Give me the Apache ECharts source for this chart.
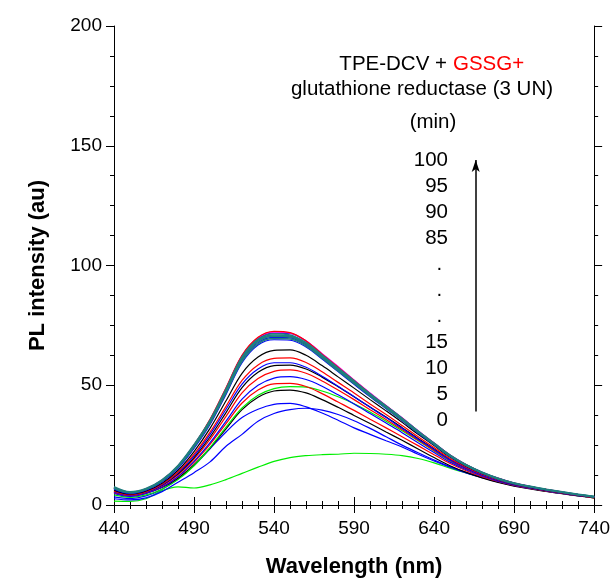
<!DOCTYPE html>
<html>
<head>
<meta charset="utf-8">
<script src="https://cdn.jsdelivr.net/npm/echarts@6/dist/echarts.min.js"></script>
<style>html,body{margin:0;padding:0;background:#fff;}#c{width:613px;height:583px;}</style>
</head>
<body>
<div id="c"></div>
<script>
const wavelengths = [440,450,460,470,480,490,500,510,520,530,540,550,560,570,580,590,600,610,620,630,640,650,660,670,680,690,700,710,720,730,740];
const xTicks = [440, 740, 50];
const yTicks = [0, 200, 50];

const greenLow = [1.6,1.5,2.6,6.0,7.6,7.1,8.4,10.6,13.2,15.8,18.2,19.8,20.6,21.0,21.2,21.6,21.5,21.2,20.6,19.4,17.6,15.4,13.4,11.7,10.1,8.7,7.4,6.2,5.1,4.1,3.2];
const blueB = [2.6,2.1,3.0,5.6,9.5,13.5,18.0,24.5,29.5,35.0,38.2,39.8,40.4,39.6,37.8,35.2,32.0,28.5,25.0,21.8,18.8,16.0,13.6,11.6,9.7,8.2,7.0,5.9,4.9,4.0,3.1];
const blueA = [3.4,2.7,3.8,6.6,11.0,16.5,23.5,30.5,36.5,40.0,42.0,42.4,41.0,38.4,35.4,32.2,29.5,26.8,24.2,21.2,18.4,15.8,13.4,11.4,9.6,8.1,6.9,5.8,4.8,3.9,3.1];
const black4 = [5.2,3.9,4.9,7.3,11.2,16.8,23.8,31.8,39.8,45.0,47.6,48.0,46.8,44.0,40.8,37.4,34.0,30.5,27.0,23.4,19.8,16.4,13.6,11.3,9.4,7.9,6.7,5.7,4.7,3.8,3.0];
const greenMid = [4.2,3.2,4.2,6.6,10.6,16.4,24.0,32.5,40.5,45.8,48.6,49.4,49.2,47.6,45.2,42.3,38.8,35.0,31.0,26.8,22.6,18.4,15.0,12.3,10.1,8.4,7.0,5.9,4.8,3.9,3.0];
const red6 = [5.0,3.8,4.9,7.5,11.8,17.8,25.3,34.0,42.6,48.0,50.6,50.8,49.5,46.5,43.0,39.5,35.8,32.2,28.5,24.8,21.0,17.3,14.3,11.8,9.8,8.2,6.9,5.8,4.8,3.9,3.0];
const blue7 = [4.8,3.6,4.8,7.5,11.9,18.2,26.0,35.0,44.2,50.0,53.0,53.6,52.4,49.6,46.0,42.2,38.2,34.2,30.2,26.0,21.9,17.9,14.7,12.1,10.0,8.3,7.0,5.9,4.8,3.9,3.1];
const red8 = [5.3,4.0,5.2,8.0,12.6,19.2,27.4,37.0,46.8,52.8,55.8,56.4,55.0,51.8,48.0,44.0,39.8,35.7,31.5,27.1,22.8,18.6,15.2,12.5,10.3,8.5,7.2,6.0,4.9,4.0,3.1];
const black9 = [5.9,4.4,5.5,8.3,13.0,19.8,28.4,38.6,49.0,55.4,58.2,58.4,56.8,53.4,49.4,45.2,40.9,36.7,32.3,27.8,23.4,19.0,15.5,12.7,10.4,8.6,7.3,6.1,5.0,4.0,3.2];
const blue10 = [5.5,4.1,5.4,8.4,13.4,20.5,29.5,40.0,50.5,56.8,59.4,59.4,57.5,53.8,49.6,45.2,40.8,36.5,32.0,27.5,23.2,18.8,15.4,12.6,10.4,8.6,7.3,6.1,5.0,4.0,3.2];
const red11 = [5.8,4.3,5.6,8.7,13.8,21.2,30.4,41.2,52.0,58.5,61.2,61.4,59.5,55.6,51.2,46.8,42.2,37.8,33.2,28.5,24.0,19.4,15.8,12.9,10.6,8.8,7.4,6.2,5.1,4.1,3.2];
const black12 = [6.2,4.6,5.9,9.1,14.5,22.3,32.0,43.5,55.0,61.8,64.6,64.8,62.5,58.2,53.5,48.8,44.0,39.3,34.5,29.5,24.8,20.0,16.2,13.2,10.8,8.9,7.5,6.3,5.2,4.2,3.3];
const blue13 = [6.6,4.8,6.2,9.6,15.3,23.6,33.6,46.2,59.4,66.8,69.0,68.8,66.0,61.0,55.7,50.4,45.2,40.2,35.2,30.0,25.1,20.2,16.4,13.3,10.9,9.0,7.6,6.4,5.3,4.3,3.4];
const blue15 = [6.8,4.9,6.3,9.8,15.6,24.0,34.4,47.2,60.5,67.8,70.0,69.8,66.8,61.6,56.3,51.0,45.8,40.7,35.6,30.3,25.4,20.4,16.5,13.4,10.9,9.0,7.6,6.4,5.3,4.3,3.4];
const blue19 = [7.0,5.0,6.5,10.0,16.1,24.8,35.2,48.4,62.2,69.6,71.8,71.6,68.4,63.0,57.5,52.0,46.6,41.4,36.3,30.9,25.8,20.8,16.8,13.6,11.1,9.1,7.6,6.4,5.3,4.3,3.4];
const magenta20 = [7.4,5.4,6.8,10.4,16.4,25.1,35.6,48.8,62.4,69.8,72.2,71.8,68.6,63.2,57.8,52.2,46.8,41.6,36.4,31.0,25.9,20.9,16.9,13.7,11.2,9.2,7.8,6.5,5.4,4.4,3.5];
const red21 = [7.2,5.2,6.6,10.2,16.3,25.0,35.8,49.0,62.5,70.0,72.5,72.0,68.5,63.0,57.5,52.0,46.5,41.3,36.2,30.8,25.8,20.8,16.8,13.6,11.1,9.1,7.7,6.5,5.3,4.3,3.4];
const teal14 = [7.1,5.2,6.6,10.1,15.9,24.2,34.2,46.8,60.0,67.3,69.5,69.3,66.4,61.3,56.0,50.7,45.5,40.5,35.4,30.2,25.3,20.4,16.5,13.4,10.9,9.0,7.6,6.4,5.3,4.3,3.4];
const teal16 = [7.0,5.1,6.5,10.0,15.9,24.4,34.6,47.6,61.0,68.3,70.5,70.2,67.2,62.0,56.6,51.2,46.0,40.9,35.8,30.5,25.5,20.5,16.6,13.5,11.0,9.0,7.6,6.4,5.3,4.3,3.4];
const teal17 = [7.3,5.3,6.7,10.3,16.2,24.8,35.0,48.0,61.4,68.8,71.0,70.6,67.5,62.3,56.9,51.5,46.2,41.1,36.0,30.6,25.6,20.6,16.7,13.6,11.1,9.1,7.7,6.5,5.4,4.4,3.5];
const teal18 = [7.6,5.5,6.9,10.5,16.5,25.2,35.4,48.4,61.8,69.2,71.5,71.0,67.8,62.6,57.2,51.8,46.4,41.3,36.2,30.8,25.8,20.8,16.8,13.7,11.2,9.2,7.8,6.6,5.5,4.5,3.5];

const seriesList = [
  ['greenLow', greenLow, '#00ee00'],
  ['blueB', blueB, '#0000ff'],
  ['blueA', blueA, '#0000ff'],
  ['black4', black4, '#000000'],
  ['greenMid', greenMid, '#00ee00'],
  ['red6', red6, '#ff0000'],
  ['blue7', blue7, '#0000ff'],
  ['red8', red8, '#ff0000'],
  ['black9', black9, '#000000'],
  ['blue10', blue10, '#0000ff'],
  ['red11', red11, '#ff0000'],
  ['black12', black12, '#000000'],
  ['blue13', blue13, '#0000ff'],
  ['blue15', blue15, '#0000ff'],
  ['blue19', blue19, '#0000ff'],
  ['magenta20', magenta20, '#ff00ff'],
  ['red21', red21, '#ff0000'],
  ['teal14', teal14, '#1f7f7f'],
  ['teal16', teal16, '#1f7f7f'],
  ['teal17', teal17, '#1f7f7f'],
  ['teal18', teal18, '#1f7f7f']
];

const timeLabels = ['100','95','90','85','. ','. ','. ','15','10','5','0'];
const arrowX = 666;
const arrowY = [39, 144];

const FONT = 'Liberation Sans, Arial, Helvetica, sans-serif';
const chart = echarts.init(document.getElementById('c'), null, {renderer: 'canvas'});

const axisCommon = {
  type: 'value',
  axisLine: {show: true, lineStyle: {color: '#000', width: 1}},
  axisTick: {show: true, inside: false, length: 8, lineStyle: {color: '#000', width: 1}},
  minorTick: {show: true, length: 4, lineStyle: {color: '#000', width: 1}},
  splitLine: {show: false},
  minorSplitLine: {show: false}
};

const series = seriesList.map(function (s, i) {
  return {
    name: s[0],
    type: 'line',
    data: wavelengths.map(function (w, k) { return [w, s[1][k]]; }),
    showSymbol: false,
    symbol: 'none',
    smooth: 0.35,
    lineStyle: {color: s[2], width: s[2] === '#1f7f7f' ? 1.6 : 1.2},
    itemStyle: {color: s[2]},
    silent: true,
    animation: false,
    z: 2 + i
  };
});

series.push({
  name: 'arrow',
  type: 'line',
  data: [],
  silent: true,
  animation: false,
  markLine: {
    silent: true,
    symbol: ['none', 'arrow'],
    symbolSize: [6, 12],
    label: {show: false},
    lineStyle: {color: '#000', width: 1.5, type: 'solid'},
    data: [[{coord: [arrowX, arrowY[0]]}, {coord: [arrowX, arrowY[1]]}]]
  }
});

const AF = '20.5px ' + FONT;
const graphics = [
  {type: 'text', x: 447, y: 64, style: {text: 'TPE-DCV +', fill: '#000', font: AF, textAlign: 'right', textVerticalAlign: 'middle'}},
  {type: 'text', x: 453, y: 64, style: {text: 'GSSG+', fill: '#ff0000', font: AF, textAlign: 'left', textVerticalAlign: 'middle'}},
  {type: 'text', x: 422, y: 89, style: {text: 'glutathione reductase (3 UN)', fill: '#000', font: AF, textAlign: 'center', textVerticalAlign: 'middle'}},
  {type: 'text', x: 433, y: 122, style: {text: '(min)', fill: '#000', font: AF, textAlign: 'center', textVerticalAlign: 'middle'}}
];
timeLabels.forEach(function (t, i) {
  graphics.push({type: 'text', x: 448, y: 160 + i * 26, style: {text: t, fill: '#000', font: AF, textAlign: 'right', textVerticalAlign: 'middle'}});
});

chart.setOption({
  backgroundColor: '#fff',
  animation: false,
  grid: {left: 114, right: 18, top: 26, bottom: 76, containLabel: false},
  xAxis: [
    Object.assign({}, axisCommon, {
      position: 'bottom', min: xTicks[0], max: xTicks[1], interval: xTicks[2],
      minorTick: {show: true, splitNumber: 5, length: 4, lineStyle: {color: '#000'}},
      axisLabel: {show: true, color: '#000', fontSize: 19, fontFamily: FONT, margin: 14},
      name: 'Wavelength (nm)', nameLocation: 'middle', nameGap: 51,
      nameTextStyle: {color: '#000', fontSize: 22, fontWeight: 'bold', fontFamily: FONT}
    }),
    Object.assign({}, axisCommon, {
      position: 'top', min: xTicks[0], max: xTicks[1], interval: xTicks[2],
      minorTick: {show: true, splitNumber: 5, length: 4, lineStyle: {color: '#000'}},
      axisLabel: {show: false}
    })
  ],
  yAxis: [
    Object.assign({}, axisCommon, {
      position: 'left', min: yTicks[0], max: yTicks[1], interval: yTicks[2],
      minorTick: {show: true, splitNumber: 4, length: 4, lineStyle: {color: '#000'}},
      axisLabel: {show: true, color: '#000', fontSize: 19, fontFamily: FONT, margin: 12},
      name: 'PL intensity (au)', nameLocation: 'middle', nameGap: 65, nameRotate: 90,
      nameTextStyle: {color: '#000', fontSize: 22, fontWeight: 'bold', fontFamily: FONT}
    }),
    Object.assign({}, axisCommon, {
      position: 'right', min: yTicks[0], max: yTicks[1], interval: yTicks[2],
      minorTick: {show: true, splitNumber: 4, length: 4, lineStyle: {color: '#000'}},
      axisLabel: {show: false}
    })
  ],
  series: series,
  graphic: graphics
});
</script>
</body>
</html>
